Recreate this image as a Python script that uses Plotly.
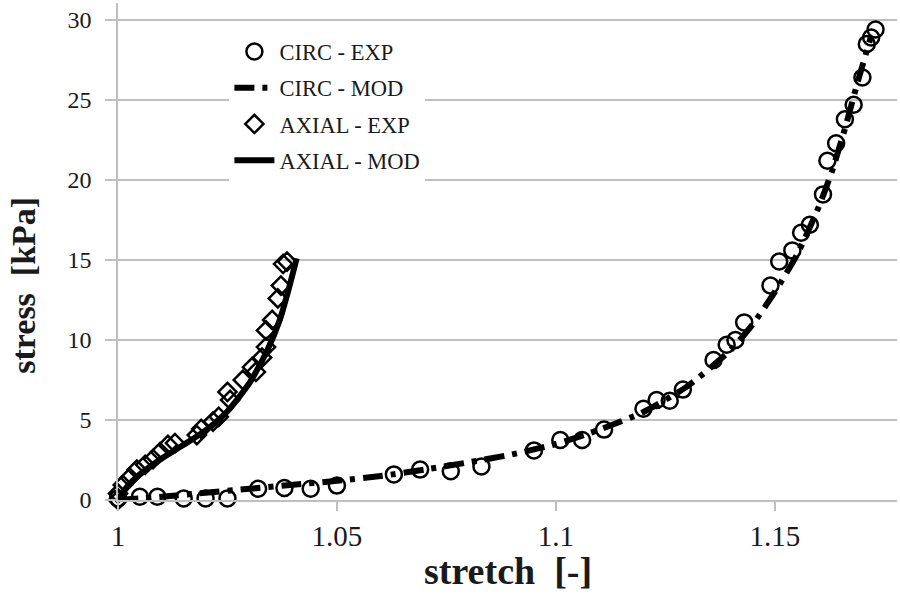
import plotly.graph_objects as go

# ---------------- data ----------------
circ_exp_x = [1.000, 1.005, 1.009, 1.015, 1.020, 1.025, 1.032, 1.038, 1.044, 1.050,
              1.063, 1.069, 1.076, 1.083, 1.095, 1.101, 1.106, 1.111, 1.120, 1.123,
              1.126, 1.129, 1.136, 1.139, 1.141, 1.143, 1.149, 1.151, 1.154, 1.156,
              1.158, 1.161, 1.162, 1.164, 1.166, 1.168, 1.170, 1.171, 1.172, 1.173]
circ_exp_y = [0.1, 0.2, 0.2, 0.1, 0.1, 0.1, 0.7, 0.75, 0.7, 0.9,
              1.6, 1.9, 1.8, 2.1, 3.1, 3.75, 3.75, 4.4, 5.7, 6.25,
              6.2, 6.9, 8.75, 9.7, 10.0, 11.1, 13.4, 14.9, 15.6, 16.7,
              17.2, 19.1, 21.2, 22.3, 23.8, 24.7, 26.4, 28.5, 28.9, 29.4]

circ_mod_x = [1.000, 1.010, 1.020, 1.030, 1.040, 1.050, 1.060, 1.070, 1.080, 1.090,
              1.100, 1.110, 1.120, 1.130, 1.140, 1.145, 1.150, 1.155, 1.160, 1.163,
              1.166, 1.169, 1.172]
circ_mod_y = [0.0, 0.2, 0.45, 0.7, 0.95, 1.2, 1.5, 1.9, 2.35, 2.85,
              3.5, 4.4, 5.5, 7.1, 9.4, 11.0, 13.0, 15.3, 18.3, 20.5,
              23.2, 26.2, 29.0]

axial_exp_x = [1.0000, 1.0000, 1.0011, 1.0027, 1.0043, 1.0062, 1.0080, 1.0096, 1.0114, 1.0130,
               1.0180, 1.0190, 1.0217, 1.0230, 1.0256, 1.0250, 1.0285, 1.0306, 1.0315, 1.0329,
               1.0338, 1.0338, 1.0352, 1.0365, 1.0372, 1.0377, 1.0386]
axial_exp_y = [0.0, 0.4, 0.94, 1.4, 1.9, 2.2, 2.56, 3.0, 3.44, 3.56,
               4.06, 4.44, 4.9, 5.2, 6.25, 6.75, 7.5, 8.3, 8.0, 8.9,
               9.56, 10.6, 11.25, 12.6, 13.4, 14.75, 14.9]

axial_mod_x = [1.0000, 1.0020, 1.0050, 1.0100, 1.0150, 1.0200, 1.0250, 1.0300, 1.0340, 1.0370,
               1.0390, 1.0408]
axial_mod_y = [0.0, 0.8, 1.6, 2.6, 3.45, 4.35, 5.55, 7.3, 9.3, 11.3,
               13.2, 15.1]

x_tick_vals = [1, 1.05, 1.1, 1.15]
x_tick_text = ["1", "1.05", "1.1", "1.15"]
y_tick_vals = [0, 5, 10, 15, 20, 25, 30]

FONT = "Liberation Serif, Times New Roman, serif"
GRID = "#bfbfbf"
TXT = "#1a1a1a"

fig = go.Figure()

fig.add_trace(go.Scatter(
    x=circ_exp_x, y=circ_exp_y, mode="markers", name="CIRC - EXP",
    legendgroup="a",
    marker=dict(symbol="circle-open", size=16, color="black", line=dict(width=2.5, color="black")),
    cliponaxis=False))
fig.add_trace(go.Scatter(
    x=circ_mod_x, y=circ_mod_y, mode="lines", name="CIRC - MOD",
    legendgroup="b", line_shape="spline",
    line=dict(color="black", width=6, dash="20px,8px,5px,8px", smoothing=0.6),
    cliponaxis=False))
fig.add_trace(go.Scatter(
    x=axial_exp_x, y=axial_exp_y, mode="markers", name="AXIAL - EXP",
    legendgroup="c",
    marker=dict(symbol="diamond-open", size=14, color="black", line=dict(width=2.5, color="black")),
    cliponaxis=False))
fig.add_trace(go.Scatter(
    x=axial_mod_x, y=axial_mod_y, mode="lines", name="AXIAL - MOD",
    legendgroup="d", line_shape="spline",
    line=dict(color="black", width=6, smoothing=0.6),
    cliponaxis=False))

fig.update_layout(
    width=900, height=594,
    margin=dict(l=118, r=3, t=3, b=94),
    paper_bgcolor="white", plot_bgcolor="white",
    font=dict(family=FONT, color=TXT),
    showlegend=True,
    legend=dict(
        x=0.143, y=0.945, xanchor="left", yanchor="top",
        bgcolor="white", borderwidth=0,
        font=dict(family=FONT, size=22.5, color=TXT),
        traceorder="grouped", tracegroupgap=4,
        itemwidth=40,
    ),
    xaxis=dict(
        range=[1, 1.1779], automargin=False,
        tickvals=x_tick_vals, ticktext=x_tick_text,
        showgrid=False, zeroline=False,
        showline=True, linecolor=GRID, linewidth=1.5,
        ticks="outside", ticklen=9, tickcolor=GRID, tickwidth=1.5,
        ticklabelstandoff=0,
        tickfont=dict(family=FONT, size=29, color=TXT),
    ),
    yaxis=dict(
        range=[0, 31.06], automargin=False,
        tickvals=y_tick_vals,
        showgrid=True, gridcolor=GRID, gridwidth=1.5,
        zeroline=False,
        showline=True, linecolor=GRID, linewidth=1.5,
        ticks="outside", ticklen=11, tickcolor=GRID, tickwidth=1.5,
        ticklabelstandoff=9,
        tickfont=dict(family=FONT, size=24, color=TXT),
    ),
    annotations=[
        dict(text="<b>stretch  [-]</b>", xref="paper", yref="paper", x=0.5, y=-0.142,
             xanchor="center", yanchor="middle", showarrow=False,
             font=dict(family=FONT, size=38, color=TXT)),
        dict(text="<b>stress  [kPa]</b>", xref="paper", yref="paper", x=-0.121, y=0.4326,
             xanchor="center", yanchor="middle", showarrow=False, textangle=-90,
             font=dict(family=FONT, size=34, color=TXT)),
    ],
)

fig.write_html("out.html",
               config={"displayModeBar": False},
               post_script="document.body.style.margin='0';document.body.style.padding='0';")
